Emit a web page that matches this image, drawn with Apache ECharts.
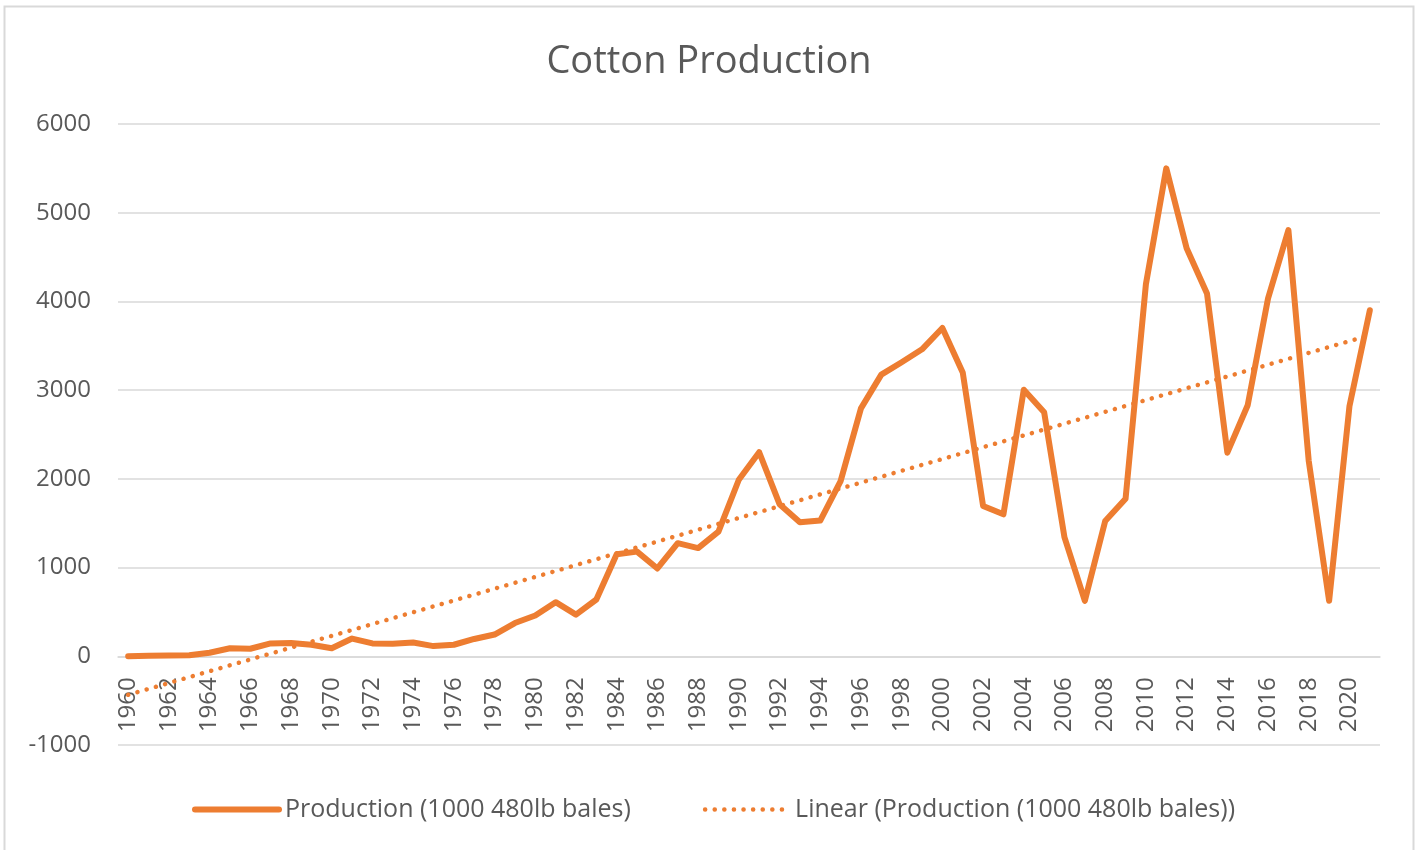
<!DOCTYPE html>
<html>
<head>
<meta charset="utf-8">
<script src="https://cdn.jsdelivr.net/npm/echarts@6/dist/echarts.min.js"></script>
<style>
html,body{margin:0;padding:0;background:#fff;}
#chart{width:1418px;height:850px;}
</style>
</head>
<body>
<div id="chart"></div>
<script>
const years = ['1960','1961','1962','1963','1964','1965','1966','1967','1968','1969',
  '1970','1971','1972','1973','1974','1975','1976','1977','1978','1979',
  '1980','1981','1982','1983','1984','1985','1986','1987','1988','1989',
  '1990','1991','1992','1993','1994','1995','1996','1997','1998','1999',
  '2000','2001','2002','2003','2004','2005','2006','2007','2008','2009',
  '2010','2011','2012','2013','2014','2015','2016','2017','2018','2019',
  '2020','2021'];
const production = [0, 5, 10, 12, 40, 90, 85, 145, 150, 130,
  90, 200, 145, 140, 155, 115, 130, 195, 245, 375,
  460, 610, 470, 640, 1150, 1180, 990, 1275, 1220, 1405,
  1990, 2300, 1715, 1510, 1530, 1975, 2795, 3175, 3315, 3460,
  3700, 3200, 1695, 1600, 3005, 2750, 1340, 625, 1525, 1775,
  4195, 5500, 4600, 4090, 2295, 2830, 4035, 4805, 2200, 625,
  2820, 3900];
const yTicks = [-1000, 0, 1000, 2000, 3000, 4000, 5000, 6000];
const seriesName = 'Production (1000 480lb bales)';
const trendName = 'Linear (Production (1000 480lb bales))';

// least-squares linear trendline (as the spreadsheet computes it)
const n = production.length;
let sx = 0, sy = 0, sxx = 0, sxy = 0;
production.forEach((v, i) => { const x = i + 1; sx += x; sy += v; sxx += x * x; sxy += x * v; });
const slope = (n * sxy - sx * sy) / (n * sxx - sx * sx);
const intercept = (sy - slope * sx) / n;
const trend = production.map((v, i) => slope * (i + 1) + intercept);

const orange = '#ED7D31';
const txt = '#595959';
const font = "'Open Sans', 'Noto Sans', sans-serif";

const W = 1418, H = 850;
const gridTop = 124, gridBottom = 105;
const yMin = yTicks[0], yMax = yTicks[yTicks.length - 1];
const gridH = H - gridTop - gridBottom;
// place the category axis at value 0 (as the spreadsheet does)
const zeroOffset = -gridH * (0 - yMin) / (yMax - yMin);

const chart = echarts.init(document.getElementById('chart'), null, {renderer: 'canvas', width: W, height: H});
chart.setOption({
  backgroundColor: '#ffffff',
  animation: false,
  title: {
    text: 'Cotton Production',
    left: 'center',
    top: 38,
    textStyle: {fontFamily: font, fontSize: 38, fontWeight: 'normal', color: txt}
  },
  grid: {left: 118, right: 38, top: gridTop, bottom: gridBottom, containLabel: false},
  legend: {
    top: 792,
    left: 187,
    padding: [5, 5, 5, 5],
    itemWidth: 84,
    itemHeight: 14,
    itemGap: 72,
    textStyle: {fontFamily: font, fontSize: 25, color: txt, padding: [0, 0, 0, 1]},
    data: [
      {name: seriesName, itemStyle: {opacity: 0}, lineStyle: {width: 6, cap: 'round'}},
      {name: trendName, itemStyle: {opacity: 0}, lineStyle: {width: 4.5, cap: 'round'}}
    ]
  },
  xAxis: {
    type: 'category',
    data: years,
    boundaryGap: true,
    position: 'bottom',
    offset: zeroOffset,
    axisLine: {onZero: false, lineStyle: {color: '#d9d9d9', width: 1.5}},
    axisTick: {show: false},
    axisLabel: {
      interval: 1,
      rotate: 90,
      margin: 21,
      fontFamily: font,
      fontSize: 24,
      color: txt
    },
    splitLine: {show: false}
  },
  yAxis: {
    type: 'value',
    min: yMin,
    max: yMax,
    interval: 1000,
    axisLine: {show: false},
    axisTick: {show: false},
    axisLabel: {fontFamily: font, fontSize: 24, color: txt, margin: 27,
      formatter: v => String(v)},
    splitLine: {lineStyle: {color: '#d9d9d9', width: 1.5}}
  },
  graphic: [{
    type: 'rect',
    shape: {x: 4.5, y: 6.5, width: 1409, height: 860},
    style: {fill: 'none', stroke: '#d9d9d9', lineWidth: 2},
    silent: true
  }],
  series: [
    {
      name: seriesName,
      type: 'line',
      data: production,
      symbol: 'none',
      lineStyle: {color: orange, width: 6, join: 'round', cap: 'round'},
      itemStyle: {color: orange},
      z: 3
    },
    {
      name: trendName,
      type: 'line',
      data: trend,
      symbol: 'none',
      lineStyle: {color: orange, width: 4.5, type: [0.1, 9.5], cap: 'round'},
      itemStyle: {color: orange},
      z: 2
    }
  ]
});
</script>
</body>
</html>
